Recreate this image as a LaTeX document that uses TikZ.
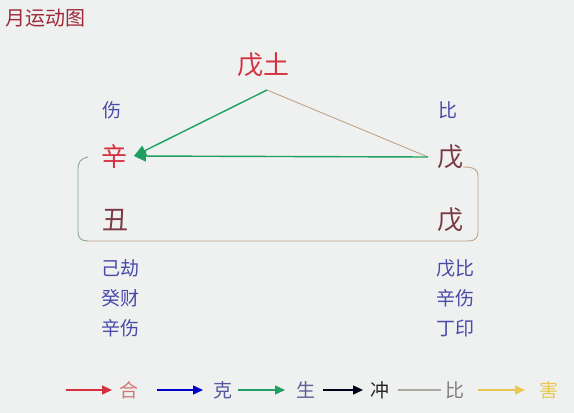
\documentclass[tikz,border=0pt]{standalone}
\usepackage{fontspec}
\setmainfont{Noto Sans CJK SC}
\usetikzlibrary{arrows.meta}
\definecolor{bg}{HTML}{EEF1F0}
\definecolor{titlec}{HTML}{A02A3A}
\definecolor{redc}{HTML}{D63040}
\definecolor{brownc}{HTML}{7A3A42}
\definecolor{bluec}{HTML}{4A4AA8}
\definecolor{greenc}{HTML}{1FA060}
\definecolor{tanc}{HTML}{C0A488}
\definecolor{gbr}{HTML}{88A898}
\definecolor{yelc}{HTML}{E8C850}
\definecolor{greyc}{HTML}{A8A8A0}
\definecolor{hec}{HTML}{D07878}
\tikzset{
  big/.style={font=\fontsize{26}{28}\selectfont, inner sep=0pt},
  small/.style={font=\fontsize{19}{21}\selectfont, inner sep=0pt, text=bluec},
  leg/.style={font=\fontsize{19}{21}\selectfont, inner sep=0pt},
  arr/.style={line width=1.4pt, -{Triangle[length=10pt,width=9pt]}},
  garr/.style={line width=1.4pt, -{Triangle[length=12pt,width=11pt]}},
}
\begin{document}
\begin{tikzpicture}[x=1pt,y=-1pt]
\useasboundingbox (0,0) rectangle (574,413);
\fill[bg] (0,0) rectangle (574,413);
\node[font=\fontsize{20}{22}\selectfont, text=titlec, anchor=west, inner sep=0pt] (title) at (5,18) {月运动图};
\node[big, text=redc] (wutu) at (263,65) {戊土};
\coordinate (apex) at (267,90);
\node[small] (s1) at (112,110) {伤};
\node[small] (s2) at (448,110) {比};
\node[big, text=redc] (xin) at (114,157) {辛};
\node[big, text=brownc] (wu1) at (450,157) {戊};
\node[big, text=brownc] (chou) at (115,220) {丑};
\node[big, text=brownc] (wu2) at (450,220) {戊};
\coordinate (xinE) at (134,156);
\coordinate (wuW) at (428,157);
\draw[tanc, line width=0.9pt] (apex) -- (wuW);
\draw[greenc, garr] (apex) -- (xinE);
\draw[greenc, garr] (wuW) -- (xinE);
% bracket
\draw[gbr, line width=0.9pt] (88,157) .. controls (80,159) and (78,162) .. (78,170) -- (78,232) .. controls (78,238) and (81,241) .. (88,241);
\draw[tanc, line width=0.9pt] (88,241) -- (468,241) .. controls (475,241) and (478,238) .. (478,232) -- (478,176) .. controls (478,170) and (475,167) .. (463,167);
\node[small] (h1) at (120,268) {己劫};
\node[small] (h2) at (120,298) {癸财};
\node[small] (h3) at (120,328) {辛伤};
\node[small] (h4) at (455,268) {戊比};
\node[small] (h5) at (455,298) {辛伤};
\node[small] (h6) at (455,328) {丁印};
% legend
\coordinate (a1) at (66,390); \coordinate (b1) at (112,390);
\coordinate (a2) at (157,390); \coordinate (b2) at (203,390);
\coordinate (a3) at (238,390); \coordinate (b3) at (285,390);
\coordinate (a4) at (323,390); \coordinate (b4) at (363,390);
\coordinate (a5) at (398,390); \coordinate (b5) at (441,390);
\coordinate (a6) at (478,390); \coordinate (b6) at (525,390);
\draw[arr, redc] (a1) -- (b1);
\draw[arr, blue!80!black] (a2) -- (b2);
\draw[arr, greenc] (a3) -- (b3);
\draw[arr, black!90!blue] (a4) -- (b4);
\draw[line width=1.4pt, greyc] (a5) -- (b5);
\draw[arr, yelc] (a6) -- (b6);
\node[leg, text=hec] (l1) at (129,390) {合};
\node[leg, text=bluec!80!gray] (l2) at (223,390) {克};
\node[leg, text=bluec!60!gray] (l3) at (306,390) {生};
\node[leg, text=black!85] (l4) at (380,390) {冲};
\node[leg, text=gray] (l5) at (455,390) {比};
\node[leg, text=yelc] (l6) at (549,390) {害};
\end{tikzpicture}
\end{document}
